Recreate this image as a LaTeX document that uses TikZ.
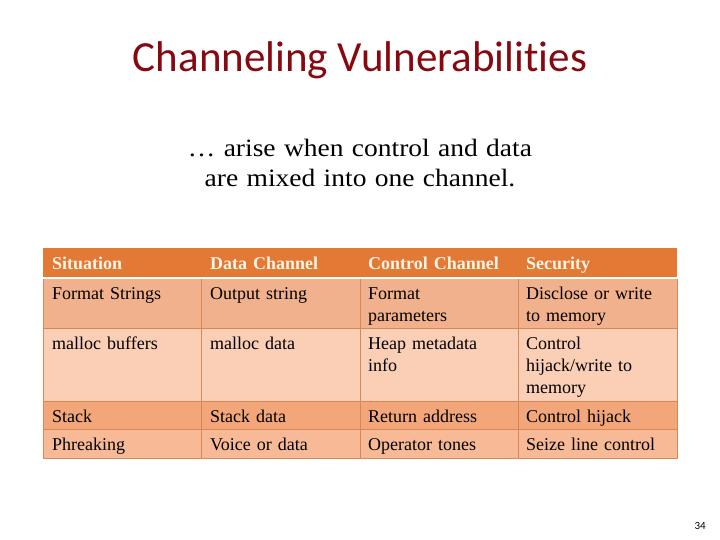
\documentclass[tikz,border=0pt]{standalone}
\usepackage{fontspec}
\setmainfont{Liberation Serif}
\newfontfamily\titlefont[Ligatures=NoCommon]{Carlito}
\newfontfamily\subfont[FakeStretch=1.1]{Liberation Serif}

\definecolor{titlered}{RGB}{136,8,16}
\definecolor{headorange}{RGB}{226,121,52}
\definecolor{headtext}{RGB}{255,244,230}
\definecolor{rowone}{RGB}{242,177,141}
\definecolor{rowtwo}{RGB}{251,206,182}
\definecolor{rowthree}{RGB}{243,166,122}
\definecolor{rowfour}{RGB}{248,186,150}
\definecolor{gridorange}{RGB}{216,135,85}

\tikzset{
	cell/.style={anchor=base west,inner sep=0pt,text width=148pt,align=left,
		font=\fontsize{18}{22}\selectfont},
	headcell/.style={cell,font=\fontsize{18}{22}\selectfont\bfseries,text=headtext},
	gridline/.style={draw=gridorange,line width=0.8pt}
}

\begin{document}
\begin{tikzpicture}[x=1pt,y=-1pt]
	\useasboundingbox (0,0) rectangle (720,540);

	% title and subtitle
	\node[font=\titlefont\fontsize{43}{50}\selectfont,text=titlered,anchor=base] (title) at (360,72) {Channeling Vulnerabilities};
	\node[font=\subfont\fontsize{25}{30}\selectfont,align=center,text width=500pt,anchor=base] (sub) at (360,157) {… arise when control and data\\are mixed into one channel.};

	% table background
	\fill[headorange] (43,248) rectangle (677,277);
	\fill[rowone] (43,279) rectangle (677,328);
	\fill[rowtwo] (43,328) rectangle (677,401);
	\fill[rowthree] (43,401) rectangle (677,429);
	\fill[rowfour] (43,429) rectangle (677,458);

	% grid
	\foreach \y in {328,401,429}
	{
		\draw[gridline] (43,\y) -- (677,\y);
	}
	\foreach \x in {201,360,518}
	{
		\draw[gridline] (\x,279) -- (\x,458);
	}
	\draw[gridline] (43,279) -- (43,458) -- (677,458) -- (677,279);

	% header
	\foreach \x/\txt [count=\i] in {52/Situation,210/Data Channel,368/Control Channel,526/Security}
	{
		\node[headcell] (head\i) at (\x,269) {\txt};
	}

	% rows
	\node[cell] (fmt1) at (52,299) {Format Strings};
	\node[cell] (fmt2) at (210,299) {Output string};
	\node[cell] (fmt3) at (368,299) {Format\\parameters};
	\node[cell] (fmt4) at (526,299) {Disclose or write\\to memory};

	\node[cell] (mal1) at (52,349) {malloc buffers};
	\node[cell] (mal2) at (210,349) {malloc data};
	\node[cell] (mal3) at (368,349) {Heap metadata\\info};
	\node[cell] (mal4) at (526,349) {Control\\hijack/write to\\memory};

	\node[cell] (stk1) at (52,422) {Stack};
	\node[cell] (stk2) at (210,422) {Stack data};
	\node[cell] (stk3) at (368,422) {Return address};
	\node[cell] (stk4) at (526,422) {Control hijack};

	\node[cell] (phr1) at (52,450) {Phreaking};
	\node[cell] (phr2) at (210,450) {Voice or data};
	\node[cell] (phr3) at (368,450) {Operator tones};
	\node[cell] (phr4) at (526,450) {Seize line control};

	% slide number
	\node[font=\titlefont\fontsize{11}{13}\selectfont,anchor=base east,inner sep=0pt] (num) at (706,529) {34};
\end{tikzpicture}
\end{document}
